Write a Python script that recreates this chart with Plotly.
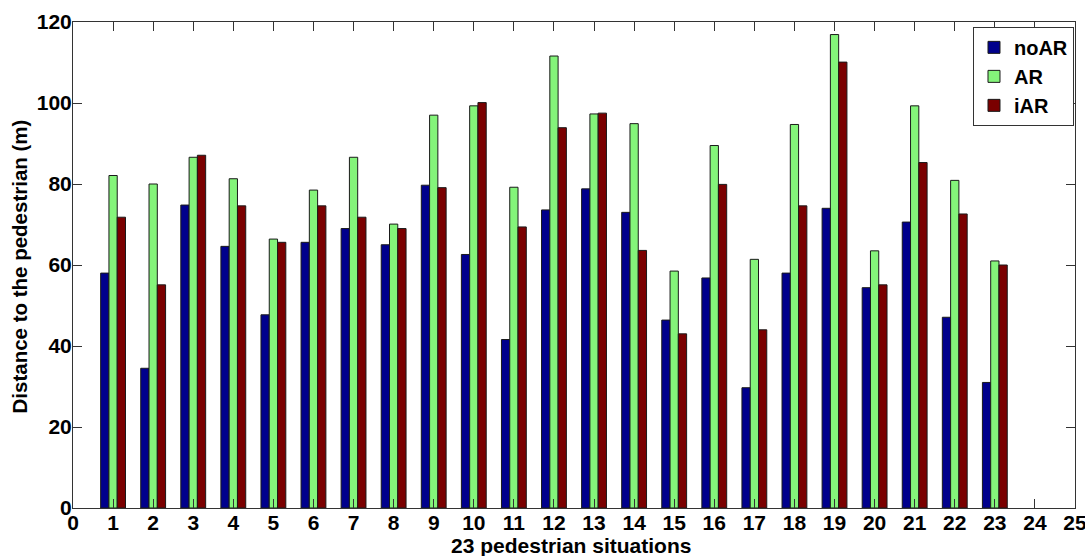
import plotly.graph_objects as go

situations = list(range(1, 24))
noAR = [58.0, 34.5, 74.8, 64.6, 47.7, 65.6, 69.0, 65.0, 79.7, 62.6, 41.6, 73.6,
        78.8, 73.0, 46.4, 56.8, 29.7, 58.0, 74.0, 54.4, 70.6, 47.1, 31.0]
AR = [82.1, 80.0, 86.6, 81.3, 66.4, 78.5, 86.6, 70.1, 97.0, 99.3, 79.2, 111.6,
      97.3, 94.9, 58.5, 89.5, 61.4, 94.7, 116.9, 63.5, 99.3, 80.9, 61.0]
iAR = [71.8, 55.1, 87.1, 74.6, 65.6, 74.6, 71.8, 69.0, 79.1, 100.1, 69.4, 93.9,
       97.5, 63.6, 43.0, 79.9, 44.0, 74.6, 110.1, 55.1, 85.3, 72.6, 60.0]

series = [("noAR", noAR, "#00008C"), ("AR", AR, "#84F47A"), ("iAR", iAR, "#7A0000")]

font_family = "Liberation Sans, Arial, sans-serif"

fig = go.Figure()
for name, vals, color in series:
    fig.add_trace(go.Bar(
        x=situations, y=vals, name=name,
        marker=dict(color=color, line=dict(color="#1a1a1a", width=1)),
    ))

W, H = 1085, 556
ml, mr, mt, mb = 73, 10, 22, 48
pw, ph = W - ml - mr, H - mt - mb

axis_common = dict(
    ticks="inside", ticklen=9, tickcolor="#333", mirror="allticks",
    showline=True, linecolor="#333", linewidth=1, showgrid=False, zeroline=False,
    tickfont=dict(size=21, family=font_family, weight="bold"),
    automargin=False, ticklabeloverflow="allow",
)

fig.update_layout(
    width=W, height=H,
    margin=dict(l=ml, r=mr, t=mt, b=mb),
    paper_bgcolor="white", plot_bgcolor="white",
    barmode="group", bargap=0.38, bargroupgap=0,
    font=dict(family=font_family, color="black"),
    legend=dict(
        x=0.999, y=0.99, xanchor="right", yanchor="top",
        bordercolor="#333", borderwidth=1, bgcolor="white",
        font=dict(size=20, family=font_family, weight="bold"),
        tracegroupgap=0, itemwidth=30,
    ),
    xaxis=dict(range=[0, 25], tickmode="linear", tick0=0, dtick=1,
               ticklabelstandoff=-4, **axis_common),
    yaxis=dict(range=[0, 120], tickmode="linear", tick0=0, dtick=20,
               ticklabelstandoff=-4, **axis_common),
    annotations=[
        dict(text="<b>23 pedestrian situations</b>", xref="paper", yref="paper",
             x=(571 - ml) / pw, y=-(545 - (mt + ph)) / ph, xanchor="center", yanchor="middle",
             showarrow=False, font=dict(size=21, family=font_family, color="black")),
        dict(text="<b>Distance to the pedestrian (m)</b>", xref="paper", yref="paper",
             x=(19 - ml) / pw, y=(mt + ph - 266.5) / ph, xanchor="center", yanchor="middle",
             textangle=-90,
             showarrow=False, font=dict(size=20.5, family=font_family, color="black")),
    ],
)

fig.write_html("out.html", config={"displayModeBar": False},
               post_script="document.body.style.margin='0';")
